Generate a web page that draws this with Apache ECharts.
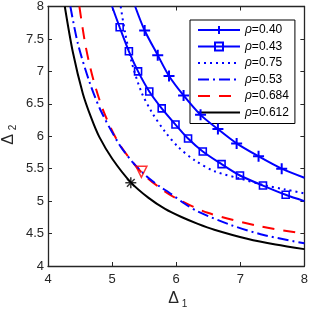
<!DOCTYPE html>
<html><head><meta charset="utf-8">
<script src="https://cdn.jsdelivr.net/npm/echarts@6/dist/echarts.min.js"></script>
<style>html,body{margin:0;padding:0;background:#fff}#c{width:311px;height:311px}</style>
</head><body><div id="c"></div>
<script>
// ---- data ----
const legendNames = ['ρ=0.40','ρ=0.43','ρ=0.75','ρ=0.53','ρ=0.684','ρ=0.612'];
const xTicks = [4,5,6,7,8];
const yTicks = [4,4.5,5,5.5,6,6.5,7,7.5,8];

// rho=0.40 (plus markers)
const plusX = [5.36,5.508,5.712,5.888,6.115,6.38,6.651,6.943,7.285,7.646,8.0];
const plusY = [8.0, 7.63, 7.25, 6.93, 6.63, 6.33, 6.11, 5.89, 5.69, 5.50, 5.36];
const plusMark = [0,1,1,1,1,1,1,1,1,1,0];

// rho=0.43 (square markers)
const sqX = [5.0, 5.118,5.262,5.405,5.58, 5.774,5.989,6.185,6.415,6.708,6.995,7.354,7.708,8.0];
const sqY = [8.0, 7.68, 7.31, 7.0,  6.69, 6.43, 6.18, 5.965,5.765,5.57, 5.395,5.24, 5.098,5.0];
const sqMark = [0,1,1,1,1,1,1,1,1,1,1,1,1,0];

// rho=0.75 (dotted)
const dotX = [5.134,5.2, 5.3, 5.454,5.62,5.826,6.031,6.288,6.6, 7.005,7.365,7.7, 8.0];
const dotY = [8.0, 7.61,7.16,6.69, 6.37,6.07, 5.835,5.63, 5.46,5.345,5.248,5.18,5.118];

// rho=0.53 (dash-dot)
const ddX = [4.349,4.466,4.646,4.826,5.108,5.312,5.518,5.749,5.877,6.134,6.338,6.851,7.365,8.0];
const ddY = [8.0, 7.43, 6.84, 6.39, 5.88, 5.61, 5.40, 5.22, 5.14, 4.96, 4.84, 4.633,4.478,4.35];

// rho=0.684 (dashed)
const daX = [4.49,4.583,4.708,4.877,5.108,5.457,5.8, 6.0, 6.492,7.341,8.0];
const daY = [8.0, 7.41, 6.87, 6.36, 5.888,5.445,5.164,5.044,4.82,4.605,4.50];

// rho=0.612 (solid black)
const blX = [4.262,4.389,4.543,4.672,4.8, 5.005,5.292,5.569,5.826,6.082,6.338,6.595,7.108,7.55,8.0];
const blY = [8.0, 7.29, 6.66, 6.29, 5.99,5.65, 5.29, 5.05, 4.88, 4.755,4.65, 4.56, 4.42, 4.33,4.26];

// special points
const triPt = [5.457,5.451];
const starPt = [5.292,5.282];

// ---- build chart ----
const BLUE='#0000ff', RED='#ff0000', BLACK='#000000';
function pts(xs,ys,mk){return xs.map((x,i)=>{const o={value:[x,ys[i]]}; if(mk && !mk[i]) o.symbol='none'; return o;});}
const FONT='"Liberation Sans", Arial, sans-serif';
const plusPath='path://M0,5L10,5M5,0L5,10';
const starPath='path://M0,5L10,5M5,0L5,10M1.5,1.5L8.5,8.5M8.5,1.5L1.5,8.5';

const grid={left:48,top:6,width:260,height:260};
const axLine={show:true,lineStyle:{color:'#262626',width:1.3}};
const axTick={show:true,inside:true,length:4,lineStyle:{color:'#262626',width:1}};
const noSym={opacity:0};

const chart=echarts.init(document.getElementById('c'),null,{renderer:'canvas'});
chart.setOption({
  animation:false,
  backgroundColor:'#fff',
  grid:grid,
  xAxis:[
    {type:'value',min:xTicks[0],max:xTicks[xTicks.length-1],interval:1,position:'bottom',
     axisLine:axLine,axisTick:axTick,splitLine:{show:false},
     axisLabel:{margin:7,fontSize:13,color:'#262626',fontFamily:FONT}},
    {type:'value',min:4,max:8,interval:1,position:'top',
     axisLine:axLine,axisTick:axTick,splitLine:{show:false},axisLabel:{show:false}}
  ],
  yAxis:[
    {type:'value',min:yTicks[0],max:yTicks[yTicks.length-1],interval:0.5,position:'left',
     axisLine:axLine,axisTick:axTick,splitLine:{show:false},
     axisLabel:{margin:4,fontSize:13,color:'#262626',fontFamily:FONT}},
    {type:'value',min:4,max:8,interval:0.5,position:'right',
     axisLine:axLine,axisTick:axTick,splitLine:{show:false},axisLabel:{show:false}}
  ],
  legend:{
    data:[
      {name:legendNames[0]},
      {name:legendNames[1]},
      {name:legendNames[2],itemStyle:noSym},
      {name:legendNames[3],itemStyle:noSym},
      {name:legendNames[4],itemStyle:noSym},
      {name:legendNames[5],itemStyle:noSym}
    ],
    orient:'vertical',left:190,top:20,
    backgroundColor:'#fff',borderColor:'#000',borderWidth:1,borderRadius:0,
    padding:[4,6,5,7],itemGap:4.5,itemWidth:42,itemHeight:10,
    textStyle:{fontSize:12,color:'#000',fontFamily:FONT,
      rich:{i:{fontStyle:'italic',fontSize:12,fontFamily:FONT,color:'#000'},n:{fontSize:12,fontFamily:FONT,color:'#000'}}},
    formatter:function(n){return '{i|ρ}{n|'+n.slice(1)+'}';}
  },
  graphic:[
    {type:'text',x:173.5,y:299,style:{text:'Δ',font:'16px '+FONT,fill:'#262626',align:'center',verticalAlign:'middle'}},
    {type:'text',x:184.5,y:304,style:{text:'1',font:'10px '+FONT,fill:'#262626',align:'center',verticalAlign:'middle'}},
    {type:'text',x:9,y:139.5,rotation:Math.PI/2,style:{text:'Δ',font:'16px '+FONT,fill:'#262626',align:'center',verticalAlign:'middle'}},
    {type:'text',x:13.5,y:127.5,rotation:Math.PI/2,style:{text:'2',font:'10px '+FONT,fill:'#262626',align:'center',verticalAlign:'middle'}}
  ],
  series:[
    {name:legendNames[0],type:'line',smooth:0.3,data:pts(plusX,plusY,plusMark),
     symbol:plusPath,symbolSize:11,showAllSymbol:true,
     itemStyle:{color:BLUE,borderColor:BLUE,borderWidth:2},
     lineStyle:{color:BLUE,width:2},z:5},
    {name:legendNames[1],type:'line',smooth:0.3,data:pts(sqX,sqY,sqMark),
     symbol:'rect',symbolSize:7,showAllSymbol:true,
     itemStyle:{color:'rgba(255,255,255,0)',borderColor:BLUE,borderWidth:1.6},
     lineStyle:{color:BLUE,width:2},z:5},
    {name:legendNames[2],type:'line',smooth:0.3,data:pts(dotX,dotY),symbol:'none',
     itemStyle:{color:BLUE},lineStyle:{color:BLUE,width:2,type:[2,4]},z:4},
    {name:legendNames[3],type:'line',smooth:0.3,data:pts(ddX,ddY),symbol:'none',
     itemStyle:{color:BLUE},lineStyle:{color:BLUE,width:2,type:[11,4,2,4]},z:4},
    {name:legendNames[4],type:'line',smooth:0.3,data:pts(daX,daY),symbol:'none',
     itemStyle:{color:RED},lineStyle:{color:RED,width:2,type:[12,9]},z:3},
    {name:legendNames[5],type:'line',smooth:0.3,data:pts(blX,blY),symbol:'none',
     itemStyle:{color:BLACK},lineStyle:{color:BLACK,width:2},z:3},
    {type:'scatter',data:[triPt],symbol:'triangle',symbolSize:11,symbolRotate:180,
     itemStyle:{color:'rgba(255,255,255,0)',borderColor:RED,borderWidth:1.5},z:6},
    {type:'scatter',data:[starPt],symbol:starPath,symbolSize:11,
     itemStyle:{color:BLACK,borderColor:BLACK,borderWidth:1.5},z:6}
  ]
});
</script></body></html>
